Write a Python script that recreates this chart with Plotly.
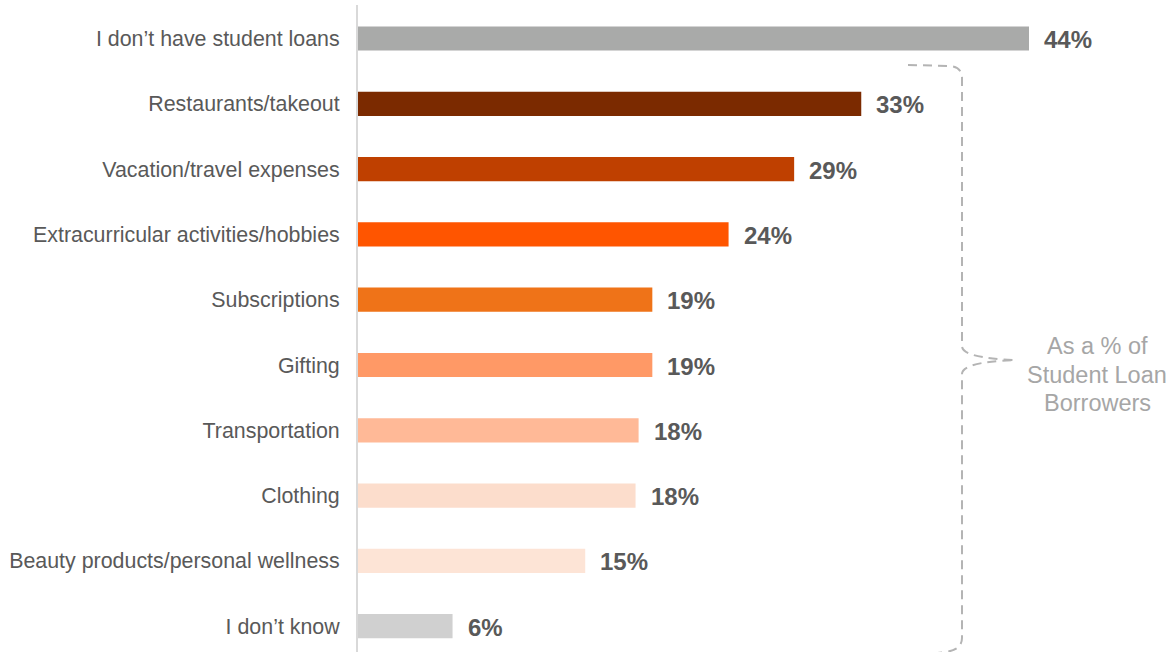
import plotly.graph_objects as go

categories = [
    "I don’t have student loans",
    "Restaurants/takeout",
    "Vacation/travel expenses",
    "Extracurricular activities/hobbies",
    "Subscriptions",
    "Gifting",
    "Transportation",
    "Clothing",
    "Beauty products/personal wellness",
    "I don’t know",
]
values = [44.0, 33.0, 28.6, 24.3, 19.3, 19.3, 18.4, 18.2, 14.9, 6.2]
value_labels = ["44%", "33%", "29%", "24%", "19%", "19%", "18%", "18%", "15%", "6%"]
colors = ["#a9aaa9", "#7b2a00", "#bf4000", "#ff5500", "#ef7318",
          "#ff9966", "#ffb997", "#fcddcc", "#fde4d6", "#d0d0d0"]
note_lines = ["As a % of", "Student Loan", "Borrowers"]

W, H = 1171, 652
ML, MR, MT, MB = 358, 0, 5, 0
PX_PER_UNIT = 15.25
plot_w = W - ML - MR
plot_h = H - MT - MB
FONT = "Arial, Liberation Sans, sans-serif"

fig = go.Figure()
fig.add_trace(go.Bar(
    y=categories, x=values, orientation="h",
    marker=dict(color=colors, line=dict(width=0)),
    width=0.37, hoverinfo="skip",
))

for c, v, t in zip(categories, values, value_labels):
    fig.add_annotation(x=v, y=c, text=t, showarrow=False, xanchor="left",
                       xshift=13, yshift=-1,
                       font=dict(family=FONT, size=24, color="#595959", weight="bold"))

def px(x, y):
    return ((x - ML) / plot_w, 1 - (y - MT) / plot_h)

pts = {
    "a": px(908, 65), "b": px(950, 66), "c": px(962, 78), "c0": px(962, 67),
    "d": px(962, 346), "e0": px(962, 358), "tip": px(1015, 360),
    "f0": px(962, 362), "f": px(962, 374), "g": px(962, 638),
    "g0": px(962, 650), "h": px(945, 652), "i": px(930, 654),
}
def p(k):
    return f"{pts[k][0]:.5f},{pts[k][1]:.5f}"
path = (f"M {p('a')} L {p('b')} Q {p('c0')} {p('c')} L {p('d')} Q {p('e0')} {p('tip')} "
        f"Q {p('f0')} {p('f')} L {p('g')} Q {p('g0')} {p('h')} L {p('i')}")
fig.add_shape(type="path", path=path, xref="paper", yref="paper",
              line=dict(color="#b4b4b4", width=2, dash="9px,6px"))

for i, line in enumerate(note_lines):
    fig.add_annotation(x=px(1097, 0)[0], y=px(0, 346 + 28.5 * i)[1],
                       xref="paper", yref="paper", text=line, showarrow=False,
                       xanchor="center", yanchor="middle",
                       font=dict(family=FONT, size=23.5, color="#a6a6a6"))

top = -0.513
bottom = top + plot_h / 65.3
fig.update_layout(
    width=W, height=H,
    margin=dict(l=ML, r=MR, t=MT, b=MB),
    paper_bgcolor="white", plot_bgcolor="white",
    showlegend=False,
    xaxis=dict(range=[0, plot_w / PX_PER_UNIT], visible=False, fixedrange=True),
    yaxis=dict(range=[bottom, top], showgrid=False, zeroline=False,
               showline=True, linecolor="#d9d9d9", linewidth=2,
               ticks="", ticklabelstandoff=12,
               tickfont=dict(family=FONT, size=21.4, color="#595959")),
)
fig.write_html("out.html")
